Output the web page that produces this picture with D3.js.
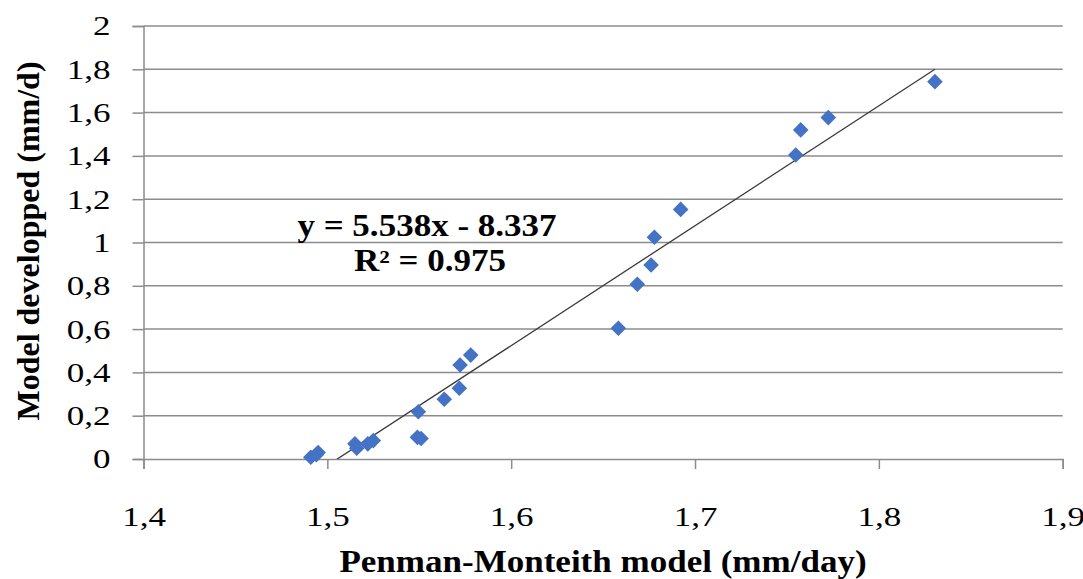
<!DOCTYPE html>
<html>
<head>
<meta charset="utf-8">
<script src="https://cdn.jsdelivr.net/npm/d3@7/dist/d3.min.js"></script>
<style>
  html, body { margin: 0; padding: 0; background: #fff; }
  svg { display: block; }
</style>
</head>
<body>
<svg id="chart" width="1083" height="579"></svg>
<script>
// Penman-Monteith reference ET vs. developed model ET
const pmValues = [1.491, 1.494, 1.495, 1.515, 1.516, 1.522, 1.525, 1.549, 1.551, 1.5495,
                  1.5636, 1.5718, 1.5722, 1.578, 1.6583, 1.6686, 1.6761, 1.6779, 1.6922,
                  1.7548, 1.7575, 1.7725, 1.8305];
const modelValues = [0.008, 0.02, 0.03, 0.07, 0.05, 0.07, 0.085, 0.1, 0.095, 0.218,
                     0.276, 0.327, 0.434, 0.48, 0.604, 0.807, 0.896, 1.024, 1.153,
                     1.404, 1.52, 1.577, 1.743];
const xTicks = [1.4, 1.5, 1.6, 1.7, 1.8, 1.9];
const yTicks = [0, 0.2, 0.4, 0.6, 0.8, 1, 1.2, 1.4, 1.6, 1.8, 2];
const slope = 5.538, intercept = -8.337, r2 = 0.975;

const FONT = '"Liberation Serif", "Times New Roman", serif';
const WIDEN = 1.13;        // horizontal stretch of titles and equation
const WIDEN_TICK = 1.25;   // horizontal stretch of tick labels

const svg = d3.select("#chart");
const plotLeft = 143.5, plotRight = 1062.7, plotTop = 26, plotBottom = 459;

const x = d3.scaleLinear().domain([1.4, 1.9]).range([plotLeft, plotRight]);
const y = d3.scaleLinear().domain([0, 2]).range([plotBottom, plotTop]);
const fmt = d => String(d).replace(".", ",");
const gridColor = "#8c8c8c";

// horizontal gridlines
svg.append("g").selectAll("line").data(yTicks.filter(d => d > 0)).join("line")
  .attr("x1", plotLeft).attr("x2", plotRight)
  .attr("y1", d => y(d)).attr("y2", d => y(d))
  .attr("stroke", gridColor).attr("stroke-width", 1.5);

// y axis
const yAxis = svg.append("g").attr("transform", `translate(${plotLeft},0)`)
  .call(d3.axisLeft(y).tickValues(yTicks).tickFormat(fmt).tickSize(11).tickPadding(10));
// x axis
const xAxis = svg.append("g").attr("transform", `translate(0,${plotBottom})`)
  .call(d3.axisBottom(x).tickValues(xTicks).tickFormat(fmt).tickSize(10).tickPadding(35));

[yAxis, xAxis].forEach(a => {
  a.select(".domain").attr("stroke", gridColor).attr("stroke-width", 1.5);
  a.selectAll(".tick line").attr("stroke", gridColor).attr("stroke-width", 1.5);
  a.selectAll("text").style("font-family", FONT)
    .style("font-size", "28px").attr("fill", "#000")
    .attr("transform", `scale(${WIDEN_TICK},1)`);
});
xAxis.selectAll(".tick text").attr("x", 0).attr("y", 58).attr("dy", "0.32em");
yAxis.selectAll(".tick text").attr("x", -33 / WIDEN_TICK);

// linear trendline over the data range, clipped to the plot area
svg.append("clipPath").attr("id", "plotClip").append("rect")
  .attr("x", plotLeft).attr("y", plotTop)
  .attr("width", plotRight - plotLeft).attr("height", plotBottom - plotTop);
const xMin = d3.min(pmValues), xMax = d3.max(pmValues);
svg.append("line")
  .attr("clip-path", "url(#plotClip)")
  .attr("x1", x(xMin)).attr("y1", y(slope * xMin + intercept))
  .attr("x2", x(xMax)).attr("y2", y(slope * xMax + intercept))
  .attr("stroke", "#3a3a3a").attr("stroke-width", 1.3);

// data points as diamonds
const diamond = d3.symbol().type(d3.symbolDiamond2).size(155);
svg.append("g").selectAll("path").data(pmValues.map((v, i) => [v, modelValues[i]])).join("path")
  .attr("transform", d => `translate(${x(d[0])},${y(d[1])})`)
  .attr("d", diamond)
  .attr("fill", "#4472c4");

// regression equation
const eq = svg.append("g").attr("transform", `translate(427,0) scale(${WIDEN},1)`)
  .append("text").attr("text-anchor", "middle")
  .style("font-family", FONT).style("font-weight", "bold").style("font-size", "31px");
eq.append("tspan").attr("x", 0).attr("y", 236).text(`y = ${slope}x - ${Math.abs(intercept)}`);
eq.append("tspan").attr("x", 3 / WIDEN).attr("y", 271).text(`R² = ${r2}`);

// axis titles
svg.append("g").attr("transform", `translate(603,572) scale(${WIDEN},1)`)
  .append("text").attr("text-anchor", "middle")
  .style("font-family", FONT).style("font-weight", "bold").style("font-size", "31px")
  .text("Penman-Monteith model (mm/day)");
svg.append("text").attr("transform", "translate(39,241) rotate(-90)").attr("text-anchor", "middle")
  .style("font-family", FONT).style("font-weight", "bold").style("font-size", "32px")
  .text("Model developped (mm/d)");
</script>
</body>
</html>
